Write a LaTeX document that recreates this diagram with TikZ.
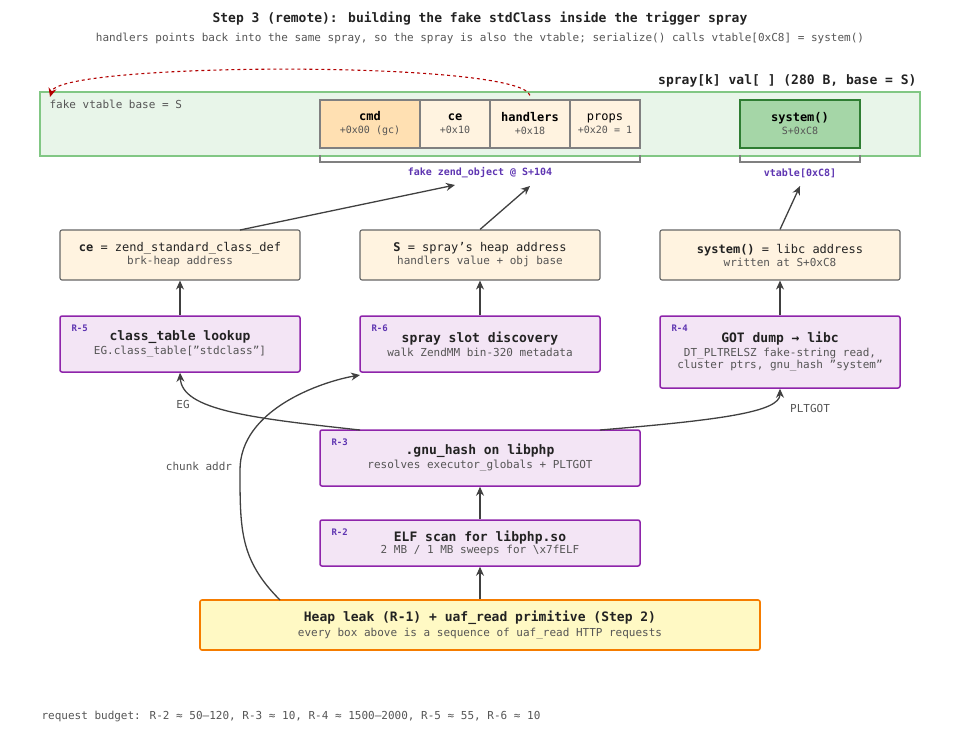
\documentclass[tikz,border=0pt]{standalone}
\usepackage{fontspec}
\setmainfont{DejaVu Sans Mono}[Ligatures=ResetAll]
\usetikzlibrary{arrows.meta}
\definecolor{bandfill}{HTML}{E8F5E9}
\definecolor{banddraw}{HTML}{81C784}
\definecolor{cmdfill}{HTML}{FFE0B2}
\definecolor{cellfill}{HTML}{FFF3E0}
\definecolor{sysfill}{HTML}{A5D6A7}
\definecolor{sysdraw}{HTML}{2E7D32}
\definecolor{rfill}{HTML}{F3E5F5}
\definecolor{rdraw}{HTML}{8E24AA}
\definecolor{tagcol}{HTML}{5E35B1}
\definecolor{leakfill}{HTML}{FFF9C4}
\definecolor{leakdraw}{HTML}{F57C00}
\definecolor{txt}{HTML}{222222}
\definecolor{sub}{HTML}{555555}
\begin{document}
\begin{tikzpicture}[x=1pt,y=-1pt,>={Stealth[length=9pt,width=8pt]},
    cell/.style={draw=gray,line width=1.2pt,fill=cellfill,minimum height=48pt,inner sep=0pt,align=center},
    info/.style={draw=gray!80!black,line width=1.1pt,fill=cellfill,rounded corners=2pt,minimum height=50pt,minimum width=240pt,align=center,text=txt},
    rbox/.style={draw=rdraw,line width=1.5pt,fill=rfill,rounded corners=2pt,minimum width=240pt,align=center,text=txt},
    tag/.style={text=tagcol,font=\fontsize{9}{10}\selectfont\bfseries},
    subt/.style={font=\fontsize{11}{13}\selectfont,text=sub},
    link/.style={->,line width=1.3pt,draw=black!75}]
\useasboundingbox (0,0) rectangle (960,740);
\node[font=\fontsize{13}{15}\selectfont\bfseries,text=txt] (title) at (480,19) {Step 3 (remote): building the fake stdClass inside the trigger spray};
\node[subt] (subtitle) at (480,38) {handlers points back into the same spray, so the spray is also the vtable; serialize() calls vtable[0xC8] = system()};

% spray band
\node[draw=banddraw,line width=1.3pt,fill=bandfill,minimum width=880pt,minimum height=64pt,inner sep=0pt] (band) at (480,124) {};
\node[anchor=east,font=\fontsize{13}{15}\selectfont\bfseries,text=txt] (spraylbl) at (920,81) {spray[k] val[ ] (280 B, base = S)};
\node[anchor=west,font=\fontsize{11}{13}\selectfont,text=sub] (vtbase) at (46,104) {fake vtable base = S};
\node[cell,fill=cmdfill,minimum width=100pt] (cmd) at (370,124) {\fontsize{12}{14}\selectfont\bfseries cmd\\[1pt]\fontsize{10}{12}\selectfont\color{sub}+0x00 (gc)};
\node[cell,minimum width=70pt] (ce) at (455,124) {\fontsize{12}{14}\selectfont\bfseries ce\\[1pt]\fontsize{10}{12}\selectfont\color{sub}+0x10};
\node[cell,minimum width=80pt] (handlers) at (530,124) {\fontsize{12}{14}\selectfont\bfseries handlers\\[1pt]\fontsize{10}{12}\selectfont\color{sub}+0x18};
\node[cell,minimum width=70pt] (props) at (605,124) {\fontsize{12}{14}\selectfont props\\[1pt]\fontsize{10}{12}\selectfont\color{sub}+0x20 = 1};
\node[cell,draw=sysdraw,line width=2pt,fill=sysfill,minimum width=120pt] (sys) at (800,124) {\fontsize{12}{14}\selectfont\bfseries system()\\[1pt]\fontsize{10}{12}\selectfont\color{sub}S+0xC8};
\draw[gray,line width=1.1pt] (320,155) -- (320,162) -- (640,162) -- (640,155);
\draw[gray,line width=1.1pt] (740,155) -- (740,162) -- (860,162) -- (860,155);
\node[tag,font=\fontsize{10}{12}\selectfont\bfseries] (zobj) at (480,173) {fake zend\_object @ S+104};
\node[tag,font=\fontsize{10}{12}\selectfont\bfseries] (vt) at (800,173) {vtable[0xC8]};
\draw[red!70!black,line width=1.1pt,dashed,-{Stealth[length=9pt,width=8pt]}] (handlers.north) ++(0,-4) .. controls (520,60) and (60,62) .. (50,97);

% derived values
\node[info] (ceval) at (180,255) {\fontsize{12}{14}\selectfont\textbf{ce} = zend\_standard\_class\_def\\[1pt]\fontsize{11}{13}\selectfont\color{sub}brk-heap address};
\node[info] (sval) at (480,255) {\fontsize{12}{14}\selectfont\textbf{S} = spray's heap address\\[1pt]\fontsize{11}{13}\selectfont\color{sub}handlers value + obj base};
\node[info] (sysval) at (780,255) {\fontsize{12}{14}\selectfont\textbf{system()} = libc address\\[1pt]\fontsize{11}{13}\selectfont\color{sub}written at S+0xC8};
\draw[link] (240,230) -- (455,185);
\draw[link] (sval.north) -- (530,186);
\draw[link] (sysval.north) -- (800,186);

% reads
\node[rbox,minimum height=56pt] (r5) at (180,344) {\fontsize{13}{15}\selectfont\bfseries class\_table lookup\\[2pt]\fontsize{11}{13}\selectfont\color{sub}EG.class\_table["stdclass"]};
\node[rbox,minimum height=56pt] (r6) at (480,344) {\fontsize{13}{15}\selectfont\bfseries spray slot discovery\\[2pt]\fontsize{11}{13}\selectfont\color{sub}walk ZendMM bin-320 metadata};
\node[rbox,minimum height=72pt] (r4) at (780,352) {\fontsize{13}{15}\selectfont\bfseries GOT dump → libc\\[2pt]\fontsize{11}{13}\selectfont\color{sub}DT\_PLTRELSZ fake-string read,\\\fontsize{11}{13}\selectfont\color{sub}cluster ptrs, gnu\_hash "system"};
\node[tag,anchor=north west] at (68,321) {R-5};
\node[tag,anchor=north west] at (368,321) {R-6};
\node[tag,anchor=north west] at (668,321) {R-4};
\draw[link] (r5.north) -- (ceval.south);
\draw[link] (r6.north) -- (sval.south);
\draw[link] (r4.north) -- (sysval.south);

\node[rbox,minimum width=320pt,minimum height=56pt] (r3) at (480,458) {\fontsize{13}{15}\selectfont\bfseries .gnu\_hash on libphp\\[2pt]\fontsize{11}{13}\selectfont\color{sub}resolves executor\_globals + PLTGOT};
\node[tag,anchor=north west] at (328,435) {R-3};
\node[rbox,minimum width=320pt,minimum height=46pt] (r2) at (480,543) {\fontsize{13}{15}\selectfont\bfseries ELF scan for libphp.so\\\fontsize{11}{13}\selectfont\color{sub}2 MB / 1 MB sweeps for \textbackslash x7fELF};
\node[tag,anchor=north west] at (328,525) {R-2};
\node[draw=leakdraw,line width=1.6pt,fill=leakfill,rounded corners=2pt,minimum width=560pt,minimum height=50pt,align=center,text=txt] (leak) at (480,625) {\fontsize{13}{15}\selectfont\bfseries Heap leak (R-1) + uaf\_read primitive (Step 2)\\[3pt]\fontsize{11}{13}\selectfont\color{sub}every box above is a sequence of uaf\_read HTTP requests};

\draw[link] (leak.north) -- (r2.south);
\draw[link] (r2.north) -- (r3.south);
\draw[link] (360,430) .. controls (250,418) and (182,410) .. (r5.south);
\draw[link] (600,430) .. controls (720,420) and (780,412) .. (r4.south);
\draw[link] (280,600) .. controls (240,560) and (240,530) .. (240,470) .. controls (240,410) and (320,382) .. (360,375);
\node[subt] (eg) at (183,404) {EG};
\node[subt] (pltgot) at (810,408) {PLTGOT};
\node[subt] (chunk) at (199,466) {chunk addr};

\node[anchor=west,subt] (budget) at (38,716) {request budget: R-2 ≈ 50–120, R-3 ≈ 10, R-4 ≈ 1500–2000, R-5 ≈ 55, R-6 ≈ 10};
\end{tikzpicture}
\end{document}
